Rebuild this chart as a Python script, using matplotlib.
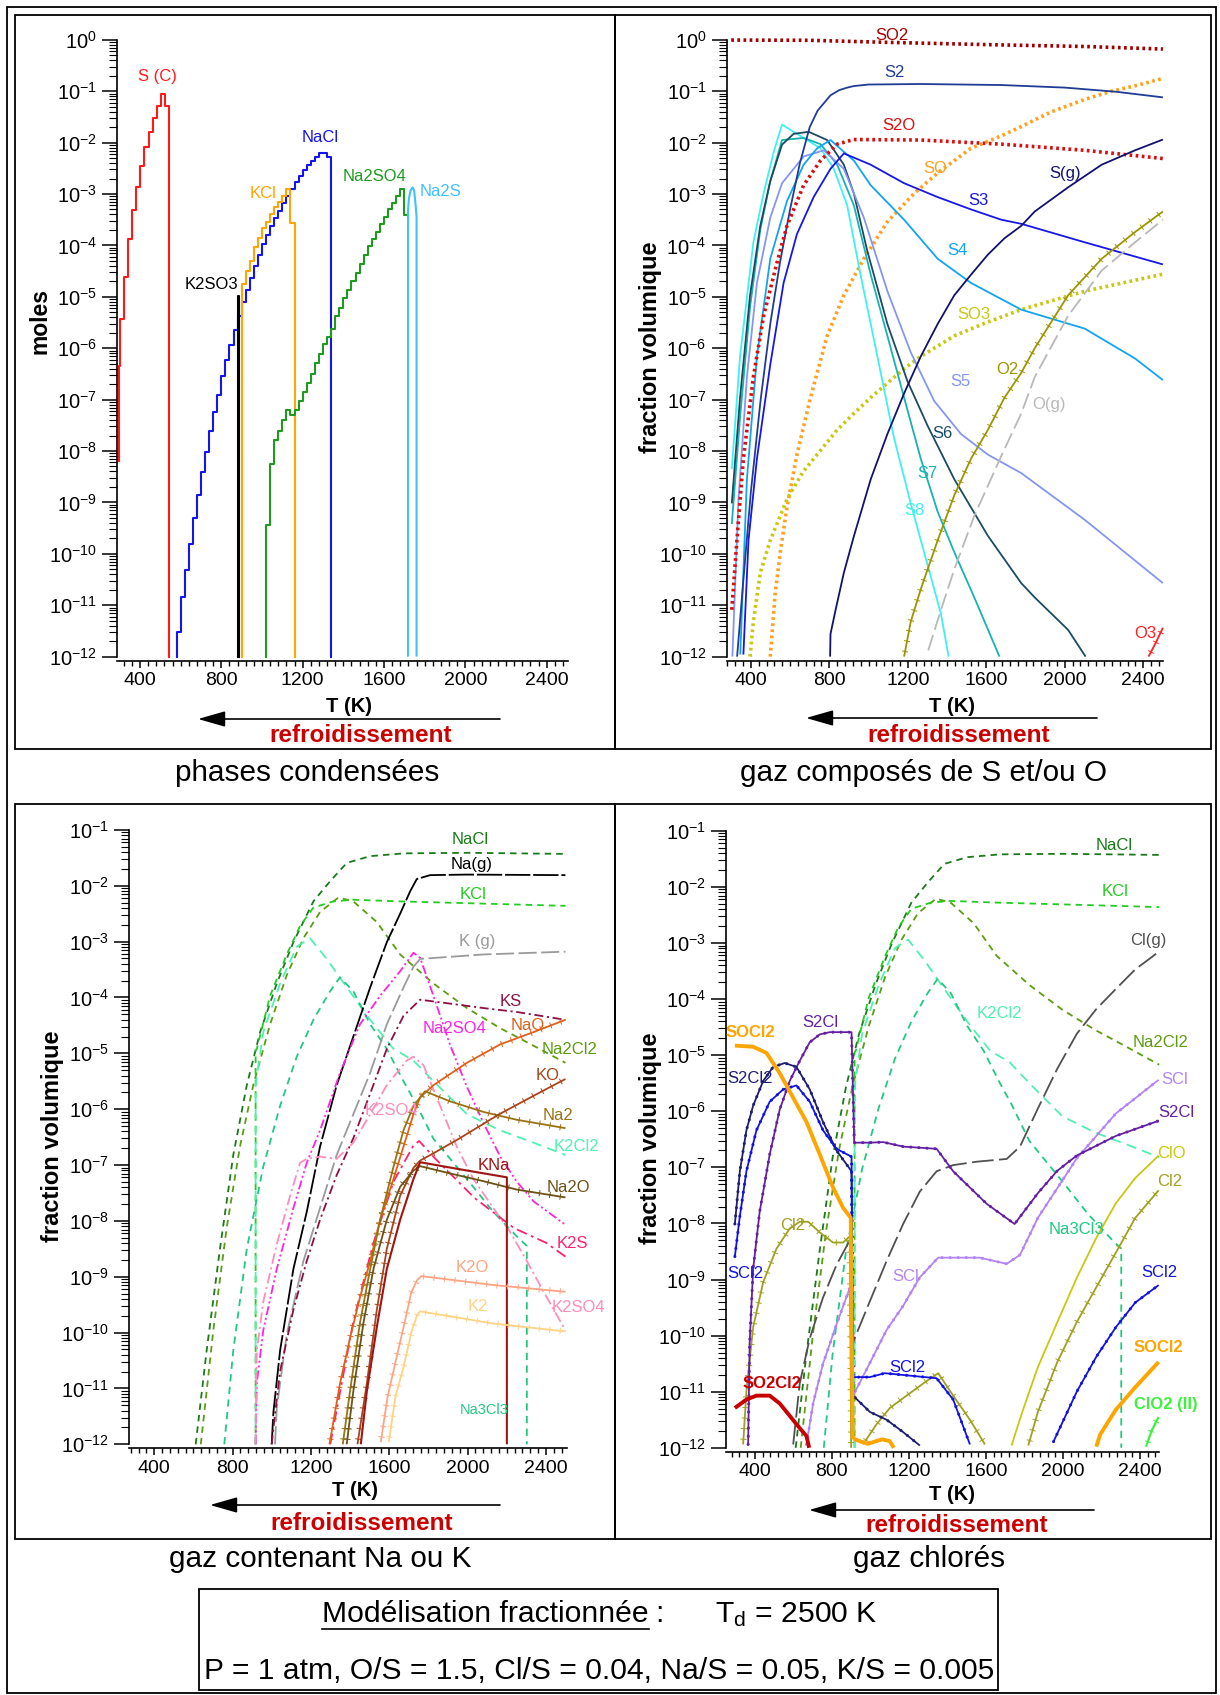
import numpy as np
import matplotlib
matplotlib.use("Agg")
import matplotlib.pyplot as plt
from matplotlib import patheffects as pe
from matplotlib import font_manager as fm
from matplotlib.ticker import LogLocator, FuncFormatter, NullFormatter, MultipleLocator
from matplotlib.patches import Rectangle, FancyArrowPatch, ArrowStyle
from matplotlib.lines import Line2D

plt.rcParams['font.family'] = ['Liberation Sans', 'DejaVu Sans']
plt.rcParams['mathtext.fontset'] = 'custom'
plt.rcParams['mathtext.rm'] = 'Liberation Sans'
plt.rcParams['mathtext.it'] = 'Liberation Sans:italic'
plt.rcParams['mathtext.bf'] = 'Liberation Sans:bold'

# ======================= DATA (log10 values) =======================
# ---- panel 1 : condensed phases (step curves: start T of each step, value) ----
sc_T = [296, 302, 322, 342, 362, 382, 402, 422, 442, 462, 482, 502, 522]
sc_v = [-6.35, -5.43, -4.62, -3.87, -3.32, -2.87, -2.45, -2.09, -1.80, -1.52, -1.29, -1.06, -1.29]
sc_end = 542
nacl_c_T = np.arange(580, 1340, 20)
nacl_c_v = [-11.53, -10.84, -10.31, -9.80, -9.30, -8.85, -8.41, -8.01, -7.61, -7.25,
            -6.92, -6.54, -6.23, -5.93, -5.64, -5.38, -5.11, -4.86, -4.64, -4.41,
            -4.19, -3.97, -3.79, -3.62, -3.47, -3.33, -3.18, -3.03, -2.90, -2.77,
            -2.65, -2.54, -2.43, -2.36, -2.28, -2.20, -2.20, -2.28]
nacl_c_end = 1340
kcl_c_T = np.arange(900, 1160, 20)
kcl_c_v = [-4.76, -4.50, -4.31, -4.04, -3.86, -3.67, -3.54, -3.39, -3.26, -3.15, -3.03, -2.90, -3.57]
kcl_c_end = 1162
k2so3_T = [882]
k2so3_v = [-4.98]
k2so3_end = 885
na2so4_c_T = np.arange(1020, 1720, 20)
na2so4_c_v = [-9.43, -8.26, -7.78, -7.61, -7.39, -7.20, -7.30, -7.20, -7.02, -6.85,
              -6.67, -6.50, -6.29, -6.12, -5.92, -5.78, -5.63, -5.38, -5.21, -5.03,
              -4.86, -4.69, -4.54, -4.37, -4.19, -4.02, -3.87, -3.74, -3.59, -3.44,
              -3.29, -3.17, -3.04, -2.90, -3.40]
na2so4_c_end = 1716
na2s_T = [1718, 1718, 1722, 1730, 1740, 1748, 1755, 1760, 1760]
na2s_v = [-12, -3.30, -3.10, -2.93, -2.87, -2.93, -3.20, -3.45, -12]

# ---- panel 2 : S / O gases ----
so2_T = [300, 700, 1100, 1676, 2100, 2500]
so2_v = [-0.005, -0.01, -0.05, -0.10, -0.13, -0.18]
s2_T = [330, 360, 400, 450, 500, 550, 600, 650, 700, 740, 806, 850, 891, 925, 1000, 1266, 1676, 2000, 2260, 2500]
s2_v = [-12, -10.6, -8.8, -7.0, -5.5, -4.3, -3.3, -2.4, -1.7, -1.38, -1.08, -0.98, -0.93, -0.90, -0.87, -0.86, -0.88, -0.93, -1.01, -1.12]
s2o_T = [303, 329, 362, 413, 465, 533, 584, 669, 755, 840, 925, 1266, 1676, 2102, 2500]
s2o_v = [-11.09, -9.74, -8.15, -6.56, -5.37, -4.34, -3.62, -2.83, -2.35, -2.03, -1.94, -1.95, -2.03, -2.15, -2.31]
so_T = [499, 524, 550, 584, 635, 704, 789, 874, 976, 1096, 1232, 1352, 1522, 1676, 1761, 1932, 2102, 2239, 2375, 2500]
so_v = [-12, -10.77, -9.97, -9.10, -8.07, -6.96, -5.76, -4.97, -4.26, -3.54, -2.99, -2.59, -2.11, -1.87, -1.72, -1.40, -1.16, -1.00, -0.88, -0.75]
so3_T = [396, 413, 448, 499, 584, 669, 755, 840, 925, 1011, 1096, 1181, 1266, 1437, 1608, 1778, 2102, 2500]
so3_v = [-12, -11.32, -10.37, -9.74, -8.94, -8.39, -7.99, -7.59, -7.27, -6.96, -6.68, -6.40, -6.16, -5.76, -5.49, -5.25, -4.89, -4.56]
sg_T = [804, 806, 832, 874, 925, 1011, 1096, 1181, 1266, 1352, 1437, 1522, 1608, 1693, 1778, 1847, 2017, 2188, 2358, 2500]
sg_v = [-12, -11.56, -11.09, -10.37, -9.66, -8.55, -7.67, -6.88, -6.16, -5.53, -4.97, -4.57, -4.18, -3.86, -3.62, -3.34, -2.87, -2.43, -2.15, -1.94]
s3_T = [362, 388, 431, 499, 567, 635, 720, 806, 874, 1011, 1181, 1352, 1522, 1676, 1778, 2102, 2500]
s3_v = [-11.96, -9.74, -8.15, -6.32, -4.73, -3.78, -3.06, -2.51, -2.21, -2.43, -2.79, -3.06, -3.30, -3.50, -3.58, -3.94, -4.37]
s4_T = [346, 380, 431, 499, 584, 669, 738, 806, 925, 1011, 1181, 1352, 1522, 1778, 2102, 2358, 2500]
s4_v = [-11.96, -8.55, -6.16, -4.26, -3.14, -2.43, -2.11, -1.95, -2.35, -2.83, -3.50, -4.26, -4.73, -5.25, -5.62, -6.20, -6.62]
s5_T = [306, 320, 337, 380, 431, 499, 559, 669, 772, 874, 976, 1096, 1215, 1335, 1471, 1608, 1778, 2102, 2500]
s5_v = [-12, -10.6, -8.94, -6.56, -4.73, -3.46, -2.79, -2.27, -2.15, -2.51, -3.46, -4.89, -6.08, -7.03, -7.67, -8.07, -8.43, -9.34, -10.57]
s6_T = [303, 345, 396, 448, 499, 559, 618, 695, 789, 874, 925, 993, 1096, 1198, 1301, 1437, 1608, 1778, 1847, 2017, 2106]
s6_v = [-9.02, -6.96, -4.97, -3.62, -2.75, -2.04, -1.83, -1.79, -1.95, -2.43, -2.99, -4.10, -5.53, -6.64, -7.51, -8.55, -9.65, -10.57, -10.85, -11.48, -12]
s7_T = [303, 345, 396, 448, 499, 559, 669, 755, 840, 925, 1011, 1096, 1181, 1266, 1352, 1437, 1539, 1667]
s7_v = [-9.42, -7.35, -5.2, -3.7, -2.75, -1.95, -1.91, -2.03, -2.43, -3.22, -4.57, -5.76, -6.96, -8.15, -9.18, -9.97, -10.85, -12]
s8_T = [303, 345, 413, 465, 516, 559, 669, 755, 823, 891, 959, 1045, 1130, 1215, 1301, 1369, 1408]
s8_v = [-8.35, -6.16, -3.94, -2.99, -2.19, -1.65, -1.91, -2.11, -2.51, -3.22, -4.57, -6.16, -7.75, -9.02, -10.22, -11.17, -12]
o2_T = [1181, 1215, 1266, 1352, 1437, 1522, 1608, 1693, 1778, 1847, 2017, 2188, 2358, 2500]
o2_v = [-12, -11.32, -10.69, -9.74, -8.86, -8.15, -7.59, -6.96, -6.48, -6.00, -4.97, -4.26, -3.74, -3.34]
og_T = [1304, 1369, 1437, 1539, 1642, 1676, 1778, 1847, 2017, 2188, 2358, 2500]
og_v = [-11.88, -11.09, -10.30, -9.26, -8.39, -8.10, -7.27, -6.56, -5.37, -4.49, -3.94, -3.50]
o3_T = [2427, 2465, 2500]
o3_v = [-12.0, -11.72, -11.44]

# ---- panel 3 : Na / K gases ----
nacl_T = [612, 668, 736, 804, 873, 941, 1026, 1111, 1213, 1298, 1384, 1503, 1673, 2000, 2500]
nacl_v = [-12, -10.32, -8.50, -6.82, -5.57, -4.62, -3.75, -3.01, -2.28, -1.92, -1.59, -1.47, -1.42, -1.41, -1.43]
na2cl2_T = [638, 702, 770, 838, 906, 992, 1077, 1162, 1247, 1341, 1417, 1537, 1656, 1826, 1997, 2167, 2303, 2500]
na2cl2_v = [-12.0, -9.96, -8.13, -6.67, -5.57, -4.48, -3.60, -2.94, -2.47, -2.21, -2.28, -2.65, -3.23, -3.75, -4.19, -4.55, -4.80, -5.17]
kcl_T = [918, 918, 924, 992, 1077, 1145, 1213, 1315, 1417, 1656, 2082, 2500]
kcl_v = [-12, -4.95, -4.92, -3.97, -3.23, -2.72, -2.39, -2.28, -2.25, -2.28, -2.32, -2.36]
k2cl2_T = [918, 918, 957, 1043, 1128, 1196, 1281, 1384, 1503, 1622, 1724, 1826, 1997, 2167, 2337, 2500]
k2cl2_v = [-12, -5.57, -4.62, -3.75, -3.09, -2.94, -3.31, -3.82, -4.40, -4.92, -5.13, -5.50, -6.09, -6.38, -6.60, -6.82]
na3cl3_T = [758, 804, 873, 957, 1043, 1128, 1213, 1298, 1349, 1417, 1503, 1588, 1673, 1732, 1826, 1997, 2132, 2252, 2303, 2303]
na3cl3_v = [-12.0, -10.32, -8.50, -7.03, -5.94, -5.06, -4.40, -3.89, -3.64, -3.89, -4.48, -4.92, -5.50, -5.87, -6.53, -7.25, -7.84, -8.28, -8.45, -12]
nag_T = [1000, 1009, 1043, 1111, 1179, 1247, 1332, 1417, 1503, 1588, 1656, 1707, 1741, 1809, 1997, 2500]
nag_v = [-12.0, -11.42, -10.32, -8.86, -7.84, -6.67, -5.57, -4.70, -3.82, -3.01, -2.50, -2.10, -1.88, -1.81, -1.80, -1.81]
kg_T = [1017, 1026, 1077, 1162, 1247, 1332, 1417, 1503, 1588, 1673, 1724, 1758, 2082, 2500]
kg_v = [-12.0, -11.35, -10.03, -8.72, -7.77, -6.82, -6.09, -5.35, -4.48, -3.82, -3.45, -3.31, -3.23, -3.18]
na2so4_T = [918, 924, 957, 1026, 1111, 1179, 1247, 1349, 1451, 1554, 1656, 1724, 1758, 1826, 1911, 1997, 2082, 2167, 2252, 2337, 2500]
na2so4_v = [-12, -10.91, -9.96, -8.86, -7.77, -6.96, -6.38, -5.35, -4.48, -3.97, -3.53, -3.20, -3.29, -3.97, -4.85, -5.6, -6.25, -6.85, -7.3, -7.65, -8.07]
k2so4_T = [918, 924, 957, 1026, 1094, 1145, 1179, 1247, 1332, 1417, 1503, 1588, 1690, 1724, 1775, 1860, 1945, 2030, 2132, 2218, 2303, 2405, 2500]
k2so4_v = [-12, -10.32, -9.45, -8.42, -7.55, -6.96, -6.89, -6.85, -6.89, -6.60, -6.09, -5.57, -5.13, -5.06, -5.21, -5.94, -6.67, -7.25, -7.77, -8.20, -8.72, -9.37, -9.96]
ks_T = [1000, 1009, 1043, 1111, 1179, 1247, 1332, 1417, 1503, 1588, 1673, 1758, 1911, 2082, 2252, 2500]
ks_v = [-12, -11.71, -10.69, -9.59, -8.72, -7.98, -7.18, -6.52, -5.72, -4.92, -4.33, -4.04, -4.11, -4.19, -4.26, -4.40]
nao_T = [1295, 1349, 1400, 1451, 1503, 1554, 1622, 1673, 1724, 1758, 1826, 1997, 2167, 2337, 2500]
nao_v = [-12, -10.91, -10.10, -9.37, -8.72, -7.98, -7.25, -6.67, -6.09, -5.79, -5.57, -5.17, -4.84, -4.62, -4.40]
na2_T = [1363, 1400, 1451, 1503, 1554, 1622, 1673, 1724, 1783, 1911, 2082, 2252, 2500]
na2_v = [-12.0, -11.05, -9.82, -8.86, -7.98, -7.03, -6.38, -5.94, -5.68, -5.86, -6.05, -6.19, -6.34]
ko_T = [1438, 1486, 1537, 1588, 1656, 1724, 1758, 1826, 1956, 2157, 2359, 2500]
ko_v = [-12.0, -10.91, -9.59, -8.50, -7.55, -7.05, -6.92, -6.79, -6.53, -6.10, -5.72, -5.46]
kna_T = [1455, 1486, 1537, 1588, 1656, 1724, 1758, 2000, 2201, 2201]
kna_v = [-12.0, -11.05, -9.9, -8.86, -7.98, -7.25, -6.95, -7.1, -7.22, -12]
na2o_T = [1383, 1417, 1469, 1520, 1588, 1656, 1724, 1758, 1911, 2082, 2252, 2500]
na2o_v = [-12.0, -11.05, -9.82, -8.86, -7.98, -7.39, -7.1, -7.02, -7.15, -7.29, -7.44, -7.58]
k2o_T = [1557, 1592, 1632, 1673, 1713, 1743, 1764, 2137, 2500]
k2o_v = [-11.96, -11.15, -10.53, -9.91, -9.28, -9.06, -8.99, -9.15, -9.27]
k2_T = [1598, 1632, 1673, 1713, 1743, 1757, 2137, 2500]
k2_v = [-11.96, -11.15, -10.62, -10.0, -9.68, -9.62, -9.84, -9.98]
k2s_T = [1299, 1315, 1417, 1519, 1622, 1724, 1753, 1834, 2036, 2238, 2400, 2500]
k2s_v = [-12, -11.7, -9.8, -8.4, -7.3, -6.65, -6.57, -6.88, -7.59, -8.13, -8.39, -8.64]

# ---- panel 4 : chlorinated gases ----
clg_T = [599, 633, 685, 754, 824, 893, 912, 997, 1084, 1170, 1257, 1344, 1430, 1550, 1708, 1777, 1870, 1971, 2072, 2173, 2275, 2376, 2497]
clg_v = [-11.94, -10.85, -10.05, -9.32, -8.74, -8.30, -10.1, -9.39, -8.67, -8.01, -7.43, -7.07, -6.96, -6.90, -6.85, -6.63, -5.95, -5.24, -4.62, -4.18, -3.82, -3.47, -3.16]
s2cl_T = [365, 373, 391, 425, 477, 529, 581, 633, 685, 737, 789, 902, 916, 997, 1066, 1170, 1344, 1430, 1604, 1749, 1870, 1971, 2072, 2275, 2497]
s2cl_v = [-11.94, -10.12, -8.81, -7.79, -6.77, -5.97, -5.46, -5.10, -4.77, -4.63, -4.59, -4.59, -6.56, -6.56, -6.55, -6.63, -6.67, -7.07, -7.65, -8.01, -7.46, -7.06, -6.79, -6.44, -6.17]
s2cl2_T = [296, 322, 356, 391, 443, 495, 555, 616, 685, 754, 824, 902, 910, 997, 1084, 1170, 1257]
s2cl2_v = [-8.01, -7.07, -6.34, -5.90, -5.46, -5.21, -5.14, -5.21, -5.61, -6.19, -6.70, -7.07, -11.07, -11.36, -11.50, -11.72, -11.96]
scl2_T = [296, 322, 356, 408, 477, 547, 616, 685, 754, 824, 902, 910, 997, 1075, 1344, 1430, 1517]
scl2_v = [-8.59, -7.87, -7.07, -6.34, -5.83, -5.61, -5.54, -5.83, -6.34, -6.67, -6.81, -10.74, -10.74, -10.67, -10.76, -11.14, -11.94]
scl2b_T = [1951, 2072, 2173, 2275, 2376, 2497]
scl2b_v = [-11.89, -11.0, -10.38, -9.85, -9.41, -9.10]
socl2_T = [296, 391, 460, 529, 599, 668, 737, 806, 858, 898, 908, 920, 985, 1061, 1100, 1122]
socl2_v = [-4.83, -4.85, -4.96, -5.32, -5.76, -6.19, -6.77, -7.36, -7.72, -7.90, -11.80, -11.85, -11.93, -11.85, -11.88, -12.0]
socl2b_T = [2173, 2194, 2275, 2376, 2497]
socl2b_v = [-11.98, -11.76, -11.32, -10.92, -10.47]
scl_T = [668, 703, 754, 824, 893, 910, 997, 1084, 1170, 1257, 1352, 1567, 1708, 1777, 1870, 2072, 2275, 2497]
scl_v = [-11.94, -11.2, -10.5, -9.8, -9.15, -11.07, -10.49, -9.90, -9.47, -8.96, -8.61, -8.61, -8.72, -8.56, -7.90, -6.84, -6.04, -5.44]
cl2a_T = [339, 356, 391, 443, 512, 581, 633, 677, 737, 806, 858, 893, 900]
cl2a_v = [-11.94, -10.99, -9.85, -9.05, -8.45, -8.09, -7.97, -7.97, -8.16, -8.34, -8.34, -8.23, -12]
cl2b_T = [962, 1032, 1101, 1188, 1292, 1352, 1430, 1517, 1595]
cl2b_v = [-11.94, -11.58, -11.29, -11.07, -10.81, -10.67, -11.07, -11.50, -11.94]
cl2c_T = [1820, 1870, 1971, 2072, 2173, 2275, 2376, 2497]
cl2c_v = [-11.96, -11.36, -10.47, -9.76, -9.14, -8.52, -7.90, -7.41]
clo_T = [1733, 1789, 1870, 1971, 2072, 2173, 2275, 2376, 2497]
clo_v = [-11.96, -11.36, -10.56, -9.76, -8.97, -8.26, -7.64, -7.19, -6.79]
clo2_T = [2432, 2460, 2497]
clo2_v = [-11.98, -11.70, -11.45]
so2cl2_T = [296, 356, 408, 477, 529, 581, 633, 668, 682]
so2cl2_v = [-11.29, -11.14, -11.07, -11.07, -11.21, -11.43, -11.65, -11.79, -12.0]

# ======================= FIGURE =======================
W, H = 1220, 1695
fig = plt.figure(figsize=(W / 100, H / 100), dpi=100)


def fx(x):
    return x / W


def fy(y):
    return 1 - y / H


def add_axes(l, t, r, b):
    return fig.add_axes([fx(l), fy(b), (r - l) / W, (b - t) / H])


def sci(v, pos):
    e = int(np.round(np.log10(v)))
    return r'$\mathregular{10^{%d}}$' % e


def style(ax, xlim, ylim):
    ax.set_yscale('log')
    ax.set_xlim(*xlim)
    ax.set_ylim(*ylim)
    ax.patch.set_visible(False)
    for s in ['top', 'right']:
        ax.spines[s].set_visible(False)
    for s in ['left', 'bottom']:
        ax.spines[s].set_linewidth(1.2)
    ax.spines['bottom'].set_position(('outward', 3))
    ax.xaxis.set_major_locator(MultipleLocator(400))
    ax.xaxis.set_minor_locator(MultipleLocator(40))
    ax.yaxis.set_major_locator(LogLocator(base=10, numticks=30))
    ax.yaxis.set_minor_locator(LogLocator(base=10, subs=np.arange(2, 10), numticks=30))
    ax.yaxis.set_major_formatter(FuncFormatter(sci))
    ax.yaxis.set_minor_formatter(NullFormatter())
    ax.tick_params(axis='x', which='major', length=5, width=1.1, labelsize=14, pad=3)
    ax.tick_params(axis='x', which='minor', length=3.5, width=1.0)
    ax.tick_params(axis='y', which='major', length=10.5, width=1.1, labelsize=14.5, pad=4)
    ax.tick_params(axis='y', which='minor', length=5.5, width=0.8)


def curve(ax, T, v, color, ls='-', lw=1.3, mark=None, z=2):
    y = 10.0 ** np.asarray(v, float)
    line, = ax.plot(T, y, color=color, lw=lw, ls=ls, clip_on=False, zorder=z,
                    solid_capstyle='butt', solid_joinstyle='round')
    if mark == 'plus':
        line.set_path_effects([pe.Normal(),
                               pe.TickedStroke(spacing=7.5, angle=90, length=0.3, linewidth=0.7),
                               pe.TickedStroke(spacing=7.5, angle=-90, length=0.3, linewidth=0.7)])
    elif mark == 'dot':
        ax.plot(T, y, color=color, lw=2.2, ls=(0, (0.05, 2.6)), dash_capstyle='round',
                clip_on=False, zorder=z)
    return line


def dotted(ax, T, v, color, lw=2.6):
    y = 10.0 ** np.asarray(v, float)
    ax.plot(T, y, color=color, lw=lw, ls=(0, (0.75, 0.95)), dash_capstyle='butt',
            clip_on=False, zorder=2)


def steps(ax, T, v, end, color, start=-12.0, endv=-12.0):
    x = [T[0]] + list(T) + [end]
    y = [start] + list(v) + [endv]
    ax.plot(x, 10.0 ** np.asarray(y, float), drawstyle='steps-post', color=color,
            lw=1.5, clip_on=False, zorder=2)


def labels(ax, items, size=12):
    for it in items:
        s, T, lv, c = it[:4]
        w = it[4] if len(it) > 4 else 'normal'
        fs = it[5] if len(it) > 5 else size
        ax.text(T, 10 ** lv, s, color=c, fontsize=fs, fontweight=w, ha='center', va='center')


# ---------------- panel 1 ----------------
ax1 = add_axes(117.4, 39.8, 568.3, 656.6)
style(ax1, (289, 2506), (1e-12, 1))
c_red, c_blue, c_orange, c_green, c_lblue = '#FF1A1A', '#1414F0', '#FFA500', '#1E9A1E', '#40C0FF'
steps(ax1, sc_T, sc_v, sc_end, c_red, start=-8.2)
steps(ax1, list(nacl_c_T), nacl_c_v, nacl_c_end, c_blue)
steps(ax1, k2so3_T, k2so3_v, k2so3_end, 'black')
steps(ax1, list(kcl_c_T), kcl_c_v, kcl_c_end, c_orange)
steps(ax1, list(na2so4_c_T), na2so4_c_v, na2so4_c_end, c_green, endv=na2so4_c_v[-1])
curve(ax1, na2s_T, na2s_v, c_lblue, lw=1.5)
labels(ax1, [("S (C)", 486, -0.71, c_red), ("NaCl", 1286, -1.91, c_blue),
             ("KCl", 1005, -3.0, c_orange), ("Na2SO4", 1555, -2.65, c_green),
             ("Na2S", 1879, -2.95, c_lblue), ("K2SO3", 752, -4.76, 'black')])

# ---------------- panel 2 ----------------
ax2 = add_axes(726.7, 39.8, 1162.7, 656.6)
style(ax2, (277, 2499), (1e-12, 1))
C2 = dict(so2='#A00000', s2='#203C94', s2o='#D81010', so='#FFA020', sg='#12126C',
          s3='#1616E6', s4='#12A4F2', so3='#C8C810', o2='#9C9400', s5='#8496F2',
          og='#B8B8B8', s6='#1B4B62', s7='#18B2B2', s8='#40F0F0', o3='#FF2020')
dotted(ax2, so2_T, so2_v, C2['so2'])
dotted(ax2, so_T, so_v, C2['so'])
dotted(ax2, so3_T, so3_v, C2['so3'])
curve(ax2, s8_T, s8_v, C2['s8'])
curve(ax2, s7_T, s7_v, C2['s7'])
curve(ax2, s6_T, s6_v, C2['s6'])
curve(ax2, s5_T, s5_v, C2['s5'])
curve(ax2, s4_T, s4_v, C2['s4'])
curve(ax2, s3_T, s3_v, C2['s3'])
curve(ax2, s2_T, s2_v, C2['s2'])
dotted(ax2, s2o_T, s2o_v, C2['s2o'])
curve(ax2, sg_T, sg_v, C2['sg'])
curve(ax2, og_T, og_v, C2['og'], ls=(0, (9, 3)))
curve(ax2, o2_T, o2_v, C2['o2'], mark='plus')
curve(ax2, o3_T, o3_v, C2['o3'], mark='plus')
labels(ax2, [("SO2", 1120, 0.08, C2['so2']), ("S2", 1134, -0.64, C2['s2']),
             ("S2O", 1156, -1.66, C2['s2o']), ("SO", 1338, -2.50, C2['so']),
             ("S(g)", 2002, -2.60, C2['sg']), ("S3", 1562, -3.12, C2['s3']),
             ("S4", 1453, -4.09, C2['s4']), ("SO3", 1537, -5.35, C2['so3']),
             ("O2", 1705, -6.42, C2['o2']), ("S5", 1467, -6.65, C2['s5']),
             ("O(g)", 1917, -7.10, C2['og']), ("S6", 1378, -7.66, C2['s6']),
             ("S7", 1299, -8.43, C2['s7']), ("S8", 1235, -9.15, C2['s8']),
             ("O3", 2409, -11.55, C2['o3'])])

# ---------------- panel 3 ----------------
ax3 = add_axes(129.3, 829.9, 566.6, 1444.3)
style(ax3, (273, 2506), (1e-12, 1e-1))
C3 = dict(nacl='#1A7A1A', nag='#000000', kcl='#22CC22', kg='#9A9A9A', ks='#8C1044',
          na2so4='#FF22E0', nao='#E0601A', na2cl2='#5C9C12', ko='#A8441A', k2so4='#FF8CBA',
          na2='#9A7212', k2cl2='#50F0B0', kna='#A01414', na2o='#6C5214', k2s='#FF2070',
          k2o='#FFA482', k2='#FFD284', na3cl3='#22C882')
dash = (0, (3.6, 2.8))


def chlorides(ax):
    curve(ax, nacl_T, nacl_v, C3['nacl'], ls=dash)
    curve(ax, na2cl2_T, na2cl2_v, C3['na2cl2'], ls=dash)
    curve(ax, kcl_T, kcl_v, C3['kcl'], ls=dash)
    curve(ax, k2cl2_T, k2cl2_v, C3['k2cl2'], ls=(0, (5.5, 3.5)))
    curve(ax, na3cl3_T, na3cl3_v, C3['na3cl3'], ls=(0, (4, 3)))


chlorides(ax3)
curve(ax3, nag_T, nag_v, C3['nag'], ls=(0, (14, 1.6)))
curve(ax3, kg_T, kg_v, C3['kg'], ls=(0, (10, 2.5)))
curve(ax3, ks_T, ks_v, C3['ks'], ls=(0, (5, 2, 1.2, 2)))
curve(ax3, na2so4_T, na2so4_v, C3['na2so4'], ls=(0, (5, 1.6, 1.1, 1.6, 1.1, 1.6)))
curve(ax3, k2so4_T, k2so4_v, C3['k2so4'], ls=(0, (6, 2, 1.2, 2)))
curve(ax3, k2s_T, k2s_v, C3['k2s'], ls=(0, (6, 2.5, 1.5, 2.5)))
curve(ax3, nao_T, nao_v, C3['nao'], mark='plus')
curve(ax3, na2_T, na2_v, C3['na2'], mark='plus')
curve(ax3, ko_T, ko_v, C3['ko'], mark='plus')
curve(ax3, na2o_T, na2o_v, C3['na2o'], mark='plus')
curve(ax3, kna_T, kna_v, C3['kna'], lw=1.5)
curve(ax3, k2o_T, k2o_v, C3['k2o'], mark='plus')
curve(ax3, k2_T, k2_v, C3['k2'], mark='plus')
labels(ax3, [("NaCl", 2016, -1.18, C3['nacl']), ("Na(g)", 2020, -1.62, C3['nag']),
             ("KCl", 2030, -2.16, C3['kcl']), ("K (g)", 2050, -3.0, C3['kg']),
             ("KS", 2218, -4.07, C3['ks']), ("Na2SO4", 1935, -4.56, C3['na2so4']),
             ("NaO", 2309, -4.50, C3['nao']), ("Na2Cl2", 2521, -4.94, C3['na2cl2']),
             ("KO", 2410, -5.39, C3['ko']), ("K2SO4", 1612, -6.03, C3['k2so4']),
             ("Na2", 2461, -6.12, C3['na2']), ("K2Cl2", 2556, -6.66, C3['k2cl2']),
             ("KNa", 2137, -7.01, C3['kna']), ("Na2O", 2515, -7.40, C3['na2o']),
             ("K2S", 2537, -8.41, C3['k2s']), ("K2O", 2026, -8.84, C3['k2o']),
             ("K2SO4", 2566, -9.55, C3['k2so4']), ("K2", 2052, -9.53, C3['k2']),
             ("Na3Cl3", 2087, -11.38, C3['na3cl3'], 'normal', 10.5)])

# ---------------- panel 4 ----------------
ax4 = add_axes(726.0, 830.8, 1158.6, 1447.8)
style(ax4, (250, 2497), (1e-12, 1e-1))
C4 = dict(clg='#505050', s2cl='#6420A4', s2cl2='#1E1E72', scl2='#1212E2', socl2='#FFA500',
          scl='#B484F2', cl2='#A0A020', clo='#C8C810', clo2='#40F040', so2cl2='#C80000')
chlorides(ax4)
curve(ax4, clg_T, clg_v, C4['clg'], ls=(0, (12, 3)))
curve(ax4, cl2a_T, cl2a_v, C4['cl2'], mark='plus')
curve(ax4, cl2b_T, cl2b_v, C4['cl2'], mark='plus')
curve(ax4, cl2c_T, cl2c_v, C4['cl2'], mark='plus')
curve(ax4, clo_T, clo_v, C4['clo'])
curve(ax4, clo2_T, clo2_v, C4['clo2'], mark='plus', lw=1.6)
curve(ax4, scl_T, scl_v, C4['scl'], mark='dot')
curve(ax4, s2cl_T, s2cl_v, C4['s2cl'], mark='dot')
curve(ax4, s2cl2_T, s2cl2_v, C4['s2cl2'], mark='dot')
curve(ax4, scl2_T, scl2_v, C4['scl2'], mark='dot')
curve(ax4, scl2b_T, scl2b_v, C4['scl2'], mark='dot')
curve(ax4, socl2_T, socl2_v, C4['socl2'], lw=2.8, z=3)
curve(ax4, socl2b_T, socl2b_v, C4['socl2'], lw=2.8, z=3)
curve(ax4, so2cl2_T, so2cl2_v, C4['so2cl2'], lw=2.8, z=3)
labels(ax4, [("NaCl", 2265, -1.27, C3['nacl']), ("KCl", 2271, -2.09, C3['kcl']),
             ("Cl(g)", 2446, -2.96, C4['clg']), ("K2Cl2", 1668, -4.25, C3['k2cl2']),
             ("Na2Cl2", 2507, -4.77, C3['na2cl2']), ("S2Cl", 738, -4.42, C4['s2cl']),
             ("SOCl2", 378, -4.59, C4['socl2'], 'bold'), ("S2Cl2", 374, -5.42, C4['s2cl2']),
             ("SCl", 2582, -5.44, C4['scl']), ("S2Cl", 2588, -6.02, C4['s2cl']),
             ("ClO", 2564, -6.75, C4['clo']), ("Cl2", 2552, -7.26, C4['cl2']),
             ("Cl2", 596, -8.04, C4['cl2']), ("Na3Cl3", 2072, -8.10, C3['na3cl3']),
             ("SCl2", 353, -8.90, C4['scl2']), ("SCl", 1183, -8.95, C4['scl']),
             ("SCl2", 2503, -8.88, C4['scl2']), ("SOCl2", 2497, -10.21, C4['socl2'], 'bold'),
             ("SCl2", 1193, -10.56, C4['scl2']), ("SO2Cl2", 491, -10.85, C4['so2cl2'], 'bold'),
             ("ClO2 (II)", 2533, -11.23, C4['clo2'], 'bold')])

# ---------------- frames, captions, axis annotations ----------------
def rect(l, t, r, b, lw=1.3):
    fig.add_artist(Rectangle((fx(l), fy(b)), (r - l) / W, (b - t) / H, transform=fig.transFigure,
                             fill=False, lw=lw, edgecolor='black'))


rect(7, 7, 1216, 1693)
rect(15, 15, 615, 749)
rect(615, 15, 1211, 749)
rect(15, 804, 615, 1539)
rect(615, 804, 1211, 1539)

def ftext(x, y, s, **kw):
    return fig.text(fx(x), fy(y), s, ha=kw.pop('ha', 'center'), va=kw.pop('va', 'center'), **kw)


ftext(307, 773, "phases condensées", fontsize=21.4)
ftext(924, 773, "gaz composés de S et/ou O", fontsize=21.4)
ftext(320, 1559, "gaz contenant Na ou K", fontsize=21.4)
ftext(929, 1559, "gaz chlorés", fontsize=21.4)

ftext(39.5, 321, "moles", fontsize=16.5, fontweight='bold', rotation=90)
ftext(651, 347, "fraction volumique", fontsize=17, fontweight='bold', rotation=90)
ftext(53, 1136, "fraction volumique", fontsize=17, fontweight='bold', rotation=90)
ftext(651, 1138, "fraction volumique", fontsize=17, fontweight='bold', rotation=90)

for (tx, ty, x0, x1, ay, rx, ry) in [(349, 707, 198, 500, 719, 361, 735),
                                     (952, 707, 806, 1097, 718, 959, 736),
                                     (355, 1491, 210, 500, 1505, 362, 1524),
                                     (952, 1495, 809, 1094, 1510, 957, 1525)]:
    ftext(tx, ty, "T (K)", fontsize=14.5, fontweight='bold')
    ftext(rx, ry, "refroidissement", fontsize=17.5, fontweight='bold', color='#CC0000')
    arr = FancyArrowPatch((fx(x1), fy(ay)), (fx(x0), fy(ay)), transform=fig.transFigure,
                          arrowstyle=ArrowStyle('-|>', head_length=1.4, head_width=0.4),
                          mutation_scale=12, lw=1.2, color='black', shrinkA=0, shrinkB=0)
    fig.add_artist(arr)

# ---------------- bottom box ----------------
def has_font(name):
    try:
        fm.findfont(fm.FontProperties(family=name), fallback_to_default=False)
        return True
    except Exception:
        return False


narrow = 'Liberation Sans Narrow' if has_font('Liberation Sans Narrow') else 'Liberation Sans'
fam = [narrow, 'DejaVu Sans']
rect(199, 1589, 998, 1690)
t1a = ftext(322, 1622, "Modélisation fractionnée", family=fam, fontsize=20, ha='left', va='baseline')
t2 = ftext(599.5, 1679, "P = 1 atm, O/S = 1.5, Cl/S = 0.04, Na/S = 0.05, K/S = 0.005",
           family=fam, fontsize=20, va='baseline')
fig.canvas.draw()
r = fig.canvas.get_renderer()
t1a.set_fontsize(20 * 326 / t1a.get_window_extent(r).width)
t2.set_fontsize(20 * 789 / t2.get_window_extent(r).width)
fs1 = t1a.get_fontsize()
ftext(655, 1622, ":", family=fam, fontsize=fs1, ha='left', va='baseline')
ftext(715, 1622, r"T$_{\mathregular{d}}$ = 2500 K", family=fam, fontsize=fs1, ha='left', va='baseline')
fig.canvas.draw()
bb = t1a.get_window_extent(r)
fig.add_artist(Line2D([bb.x0 / W, bb.x1 / W], [fy(1629), fy(1629)], transform=fig.transFigure,
                      color='black', lw=1.2))

fig.savefig("out.png", dpi=100)
